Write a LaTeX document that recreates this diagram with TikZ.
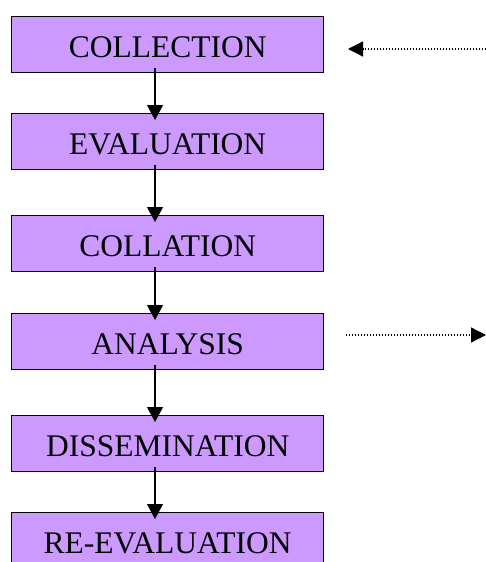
\documentclass[tikz,border=0pt]{standalone}
\usepackage{fontspec}
\setmainfont{Liberation Serif}
\usetikzlibrary{arrows.meta}
\definecolor{boxfill}{HTML}{CC99FF}
\begin{document}
\begin{tikzpicture}[x=1pt,y=-1pt,
  stepbox/.style={draw=black, line width=1.3pt, fill=boxfill, anchor=north west,
    minimum width=312pt, inner xsep=0pt, inner ysep=0pt,
    text height=41pt, text depth=15pt, font=\fontsize{31.5}{31.5}\selectfont},
  flow/.style={line width=1.2pt, -{Triangle[width=16pt,length=15pt]}},
  dotflow/.style={line width=1.3pt, dash pattern=on 1.3pt off 1.7pt, -{Triangle[width=15pt,length=15pt]}}]
\useasboundingbox (0,0) rectangle (486,562);
\begin{scope}
\clip (0,0) rectangle (486,562);
\node[stepbox] (b1) at (11,16) {COLLECTION};
\node[stepbox] (b2) at (11,113) {EVALUATION};
\node[stepbox] (b3) at (11,215) {COLLATION};
\node[stepbox] (b4) at (11,313) {ANALYSIS};
\node[stepbox] (b5) at (11,415) {DISSEMINATION};
\node[stepbox] (b6) at (11,512) {RE-EVALUATION};
\foreach \a/\b in {b1/b2,b2/b3,b3/b4,b4/b5,b5/b6}
  \draw[flow] ([yshift=5pt]\a.south -| 155,0) -- ([yshift=-7pt]\b.north -| 155,0);
\coordinate (inA) at (486,49);
\coordinate (outB) at (486,335);
\draw[dotflow] (inA) -- (348,49 |- inA);
\draw[dotflow] (346,335) -- (outB);
\end{scope}
\end{tikzpicture}
\end{document}
